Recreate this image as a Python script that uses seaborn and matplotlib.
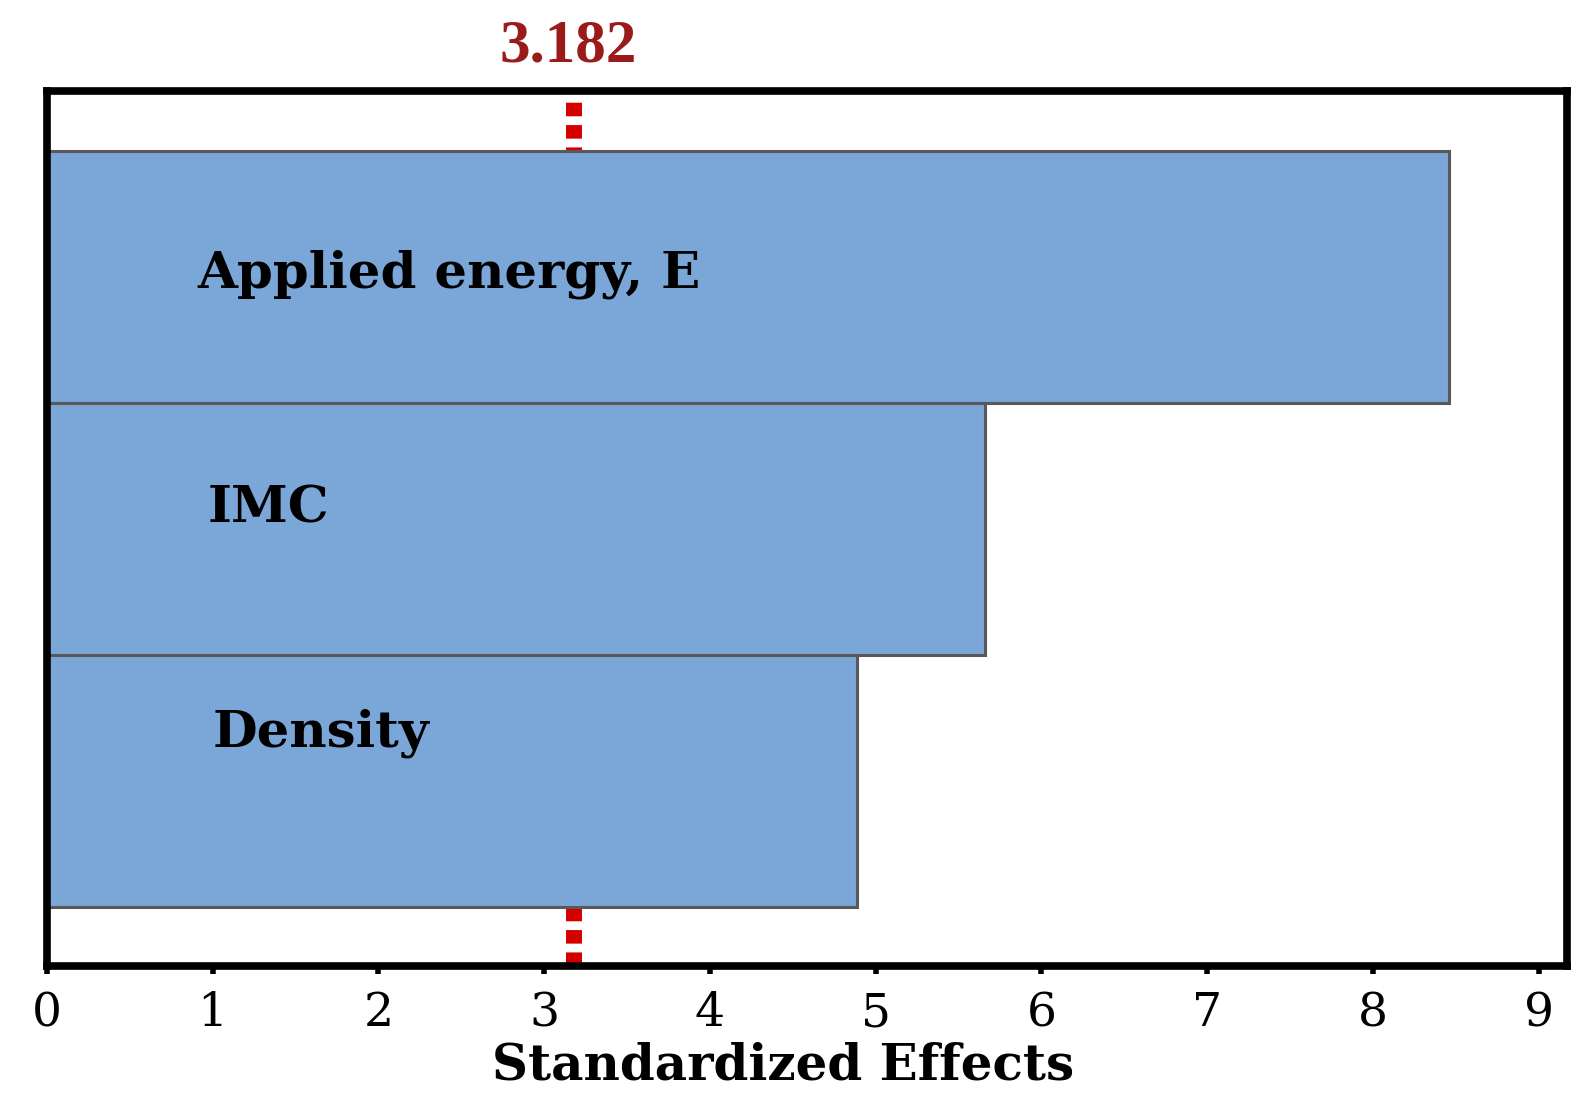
import matplotlib
matplotlib.use("Agg")
import matplotlib.pyplot as plt
import seaborn as sns
import pandas as pd

# ---- data ----
factors = ["Applied energy, E", "IMC", "Density"]
effects = [8.46, 5.66, 4.89]
critical_value = 3.182
x_ticks = [0, 1, 2, 3, 4, 5, 6, 7, 8, 9]
x_label = "Standardized Effects"

df = pd.DataFrame({"factor": factors, "effect": effects})

sns.set_theme(style="white")
plt.rcParams["font.family"] = ["Liberation Serif", "DejaVu Serif"]

fig = plt.figure(figsize=(15.8, 11.13), dpi=100)
ax = fig.add_axes([0.0297, 0.132, 0.962, 0.786])

# critical value line (behind bars)
ax.axvline(critical_value, color="#D40000", lw=11.5, ls=(0, (0.85, 0.55)),
           zorder=0.5)

sns.barplot(data=df, x="effect", y="factor", orient="h", width=1.0,
            color="#7BA6D8", saturation=1, edgecolor="#595959", linewidth=2.2,
            ax=ax, zorder=2)

ax.set_xlim(0, 9.17)
ax.set_ylim(2.5 + 0.236, -0.5 - 0.236)
ax.set_xticks(x_ticks)
ax.set_xticklabels([str(t) for t in x_ticks], fontsize=34, color="black",
                   family=["DejaVu Serif"])
ax.set_yticks([])
ax.set_ylabel("")
ax.set_xlabel(x_label, fontsize=36, fontweight="bold", color="black",
              family=["DejaVu Serif"], labelpad=4)
ax.xaxis.label.set_x(0.484)
ax.tick_params(axis="x", bottom=True, direction="out", length=6, width=4,
               color="black", pad=12)

for s in ax.spines.values():
    s.set_visible(True)
    s.set_color("black")
    s.set_linewidth(5.5)
    s.set_zorder(5)

# bar labels inside bars (layout offsets, in axis units)
label_x = [0.91, 0.97, 1.00]
label_dy = [-0.01, -0.08, -0.19]
for i, (name, lx, dy) in enumerate(zip(factors, label_x, label_dy)):
    ax.text(lx, i + dy, name, fontsize=37, fontweight="bold", color="black",
            family=["DejaVu Serif"], ha="left", va="center", zorder=6)

# critical value label above axes
ax.text(critical_value - 0.04, 1.034, f"{critical_value:.3f}",
        transform=ax.get_xaxis_transform(), ha="center", va="baseline",
        fontsize=44, fontweight="bold", color="#9B1B1B")

fig.savefig("out.png", dpi=100)
